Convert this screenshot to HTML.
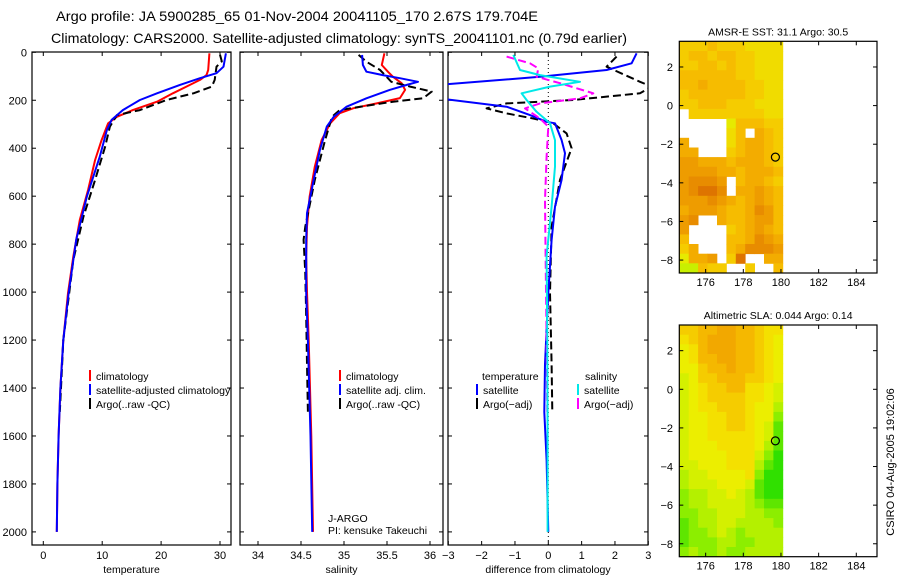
<!DOCTYPE html>
<html><head><meta charset="utf-8"><title>Argo profile</title>
<style>
html,body{margin:0;padding:0;background:#fff;}
svg{display:block;font-family:"Liberation Sans",Arial,sans-serif;}
text{fill:#000;}
</style></head>
<body>
<svg id="fig" width="900" height="580" viewBox="0 0 900 580" xmlns="http://www.w3.org/2000/svg">
<defs>
<clipPath id="c1"><rect x="32" y="52" width="199" height="493"/></clipPath>
<clipPath id="c2"><rect x="240" y="52" width="203" height="493"/></clipPath>
<clipPath id="c3"><rect x="448" y="52" width="200" height="493"/></clipPath>
</defs>
<text x="56" y="21" font-size="14" textLength="482" lengthAdjust="spacingAndGlyphs">Argo profile: JA 5900285_65 01-Nov-2004 20041105_170 2.67S 179.704E</text>
<text x="51" y="43" font-size="14" textLength="576" lengthAdjust="spacingAndGlyphs">Climatology: CARS2000. Satellite-adjusted climatology: synTS_20041101.nc (0.79d earlier)</text>
<text transform="translate(894,462) rotate(-90)" font-size="11" text-anchor="middle">CSIRO 04-Aug-2005 19:02:06</text>
<g id="layer"></g>
</svg>
<script>
// ---------- profile data ----------
const pTempClim=[4,74,95,115,143,171,206,241,269,296,366,449,574,699,852,1004,1200,1400,1600,1800,2000];
const tempClim=[28.2,28.0,27.7,26.6,24.3,22.0,19.3,15.2,12.5,11.0,9.9,8.8,7.6,6.2,5.1,4.2,3.4,2.9,2.6,2.4,2.3];
const pTempSat=[4,60,87,108,136,171,199,241,282,324,435,601,780,1004,1200,1400,1600,1800,2000];
const tempSat=[31.0,30.6,29.4,26.6,23.2,19.3,16.4,13.5,11.6,10.8,9.6,7.4,5.6,4.3,3.4,2.9,2.6,2.4,2.3];
const pTempArgo=[10,38,60,115,143,171,199,241,262,310,394,532,686,866,1004,1200,1400,1500];
const tempArgo=[30.0,30.3,29.4,29.1,28.6,25.5,20.9,16.4,12.5,11.3,10.5,8.8,6.8,5.1,4.4,3.4,3.0,2.8];

const pSalClim=[4,53,81,102,129,157,191,213,233,254,296,366,477,602,727,852,1000,1200,1600,2000];
const salClim=[35.47,35.44,35.51,35.57,35.67,35.71,35.65,35.38,35.11,34.95,34.84,34.74,34.66,34.60,34.57,34.56,34.57,34.59,34.62,34.64];
const pSalSat=[11,53,81,95,108,123,136,157,192,227,269,310,407,546,671,782,1004,1200,1600,2000];
const salSat=[35.21,35.22,35.26,35.45,35.65,35.86,35.73,35.53,35.26,35.03,34.88,34.80,34.72,34.64,34.57,34.56,34.56,34.58,34.61,34.63];
const pSalArgo=[11,39,74,123,143,164,192,206,227,241,269,366,532,727,782,922,1100,1300,1500];
const salArgo=[35.17,35.26,35.42,35.55,35.77,36.02,35.92,35.57,35.19,34.95,34.86,34.78,34.66,34.55,34.53,34.55,34.56,34.57,34.58];

const pDiffTSat=[4,46,74,102,136,192,227,262,290,296,366,421,532,644,783,1004,1300,1500,1700,2000];
const diffTSat=[2.65,2.5,1.75,-0.25,-3.3,-3.3,-1.25,-0.55,-0.05,0.2,0.4,0.5,0.4,0.2,0.1,0.0,-0.1,-0.12,-0.05,0.0];
const pDiffTArgo=[18,60,123,143,171,199,213,234,255,276,296,338,400,532,727,1004,1300,1500];
const diffTArgo=[2.05,1.75,2.75,3.1,2.75,0.75,-1.25,-1.85,-1.25,-0.45,0.15,0.55,0.7,0.35,0.1,0.05,0.1,0.12];
const pDiffSSat=[11,74,95,123,143,171,199,248,296,366,477,644,850,1200,1600,2000];
const diffSSat=[-1.05,-0.85,-0.25,0.95,0.05,-0.8,-0.65,-0.35,0.05,0.2,0.2,0.1,-0.05,-0.03,-0.02,-0.02];
const pDiffSArgo=[18,46,67,102,129,171,192,213,234,276,310,435,616,850,1200,1500];
const diffSArgo=[-1.25,-0.55,-0.3,-0.35,0.35,1.35,0.95,-0.25,-0.7,-0.25,0.0,-0.05,-0.1,-0.08,-0.05,-0.03];

const depthTicks=[0,200,400,600,800,1000,1200,1400,1600,1800,2000];
const tempTicks=[0,10,20,30];
const salTicks=[34,34.5,35,35.5,36];
const diffTicks=[-3,-2,-1,0,1,2,3];

// ---------- map data (0.5 deg cells, rows north->south, '.' = missing) ----------
const mapLonStart=174.6, mapLatTop=3.33, mapCell=0.5;
const lonTicks=[176,178,180,182,184];
const latTicks=[2,0,-2,-4,-6,-8];
const sstRows=[
"33343332222","34434433222","33443433222","44444433222","44544443322","34444443322",
"33444333222",".3333333322",".....144433",".....24.543","5....245543","55...345543",
"66555455543","66665545554","67776.45543","67887.55654","66676545654","56665445764",
"67..5445664","6....345654","4....445765","35...457776","1556.38..55","00433..3..4"];
const slaRows=[
"77889988766","67899988765","56899988765","56889988765","55788988765","45778887765",
"45677886654","45677776654","45667776553","45566776552","45566776541","45566666541",
"45556666531","45555666420","44555666310","34455556200","34445554100","23344543100",
"23344443211","22334443322","12334433332","12234323333","12223322333","23223223333"];
const floatLon=179.704, floatLat=-2.67;

// ---------- helpers ----------
const NS='http://www.w3.org/2000/svg';
const layer=document.getElementById('layer');
function mk(tag,attrs,parent){const e=document.createElementNS(NS,tag);for(const k in attrs)e.setAttribute(k,attrs[k]);(parent||layer).appendChild(e);return e;}
function txt(x,y,s,size,anchor,parent){const e=mk('text',{x:x,y:y,'font-size':size,'text-anchor':anchor||'start'},parent);e.textContent=s;return e;}

const Y0=52, Y1=545;
const yP=p=>52.3+p*0.2398;
const xT=t=>43.3+5.89*t;
const xS=s=>301+86*(s-34.5);
const xD=d=>548.3+33.33*d;

function panel(name,x0,x1,xTicks,xf,xlabelFmt,axisTitle,showDepth){
  const g=mk('g',{});
  
  
  const fr=mk('rect',{x:x0,y:Y0,width:x1-x0,height:Y1-Y0,fill:'none',stroke:'#000','stroke-width':1.2},g);
  
  
  depthTicks.forEach(p=>{
    const y=yP(p);
    mk('line',{x1:x0,y1:y,x2:x0+4,y2:y,stroke:'#000'},g);
    mk('line',{x1:x1-4,y1:y,x2:x1,y2:y,stroke:'#000'},g);
    if(showDepth){const t=txt(27,y+4,String(p),11,'end',g);
      
      }
  });
  xTicks.forEach(v=>{
    const x=xf(v);
    mk('line',{x1:x,y1:Y0,x2:x,y2:Y0+4,stroke:'#000'},g);
    mk('line',{x1:x,y1:Y1-4,x2:x,y2:Y1,stroke:'#000'},g);
    const t=txt(x,559,xlabelFmt(v),11,'middle',g);
    
    
  });
  const at=txt((x0+x1)/2,573,axisTitle,10.5,'middle',g);
  
  
  return g;
}
function series(name,clip,ps,vs,xf,color,width,dash){
  const pts=ps.map((p,i)=>xf(vs[i]).toFixed(1)+','+yP(p).toFixed(1)).join(' ');
  const a={points:pts,fill:'none',stroke:color,'stroke-width':width,'clip-path':'url(#'+clip+')','stroke-linejoin':'round'};
  if(dash)a['stroke-dasharray']=dash;
  const e=mk('polyline',a);
  
  
  return e;
}
function legendItem(name,x,y,color,label){
  const g=mk('g',{});
  
  
  mk('line',{x1:x,y1:y-6,x2:x,y2:y+5,stroke:color,'stroke-width':2},g);
  txt(x+6,y+4,label,10.5,'start',g);
}

// ---------- panels ----------
panel('temperature-panel',32,231,tempTicks,xT,v=>String(v),'temperature',true);
panel('salinity-panel',240,443,salTicks,xS,v=>String(v),'salinity',false);
panel('difference-panel',448,648,diffTicks,xD,v=>(v<0?'\u2212'+(-v):String(v)),'difference from climatology',false);

// zero line in diff panel
const zl=mk('line',{x1:xD(0),y1:Y0,x2:xD(0),y2:Y1,stroke:'#000','stroke-width':1,'stroke-dasharray':'1,3'});



series('temperature-climatology-line','c1',pTempClim,tempClim,xT,'#ff0000',2);
series('temperature-argo-line','c1',pTempArgo,tempArgo,xT,'#000',2,'8,4');
series('temperature-satellite-line','c1',pTempSat,tempSat,xT,'#0000ff',2);

series('salinity-climatology-line','c2',pSalClim,salClim,xS,'#ff0000',2);
series('salinity-argo-line','c2',pSalArgo,salArgo,xS,'#000',2,'8,4');
series('salinity-satellite-line','c2',pSalSat,salSat,xS,'#0000ff',2);

series('diff-temp-argo-line','c3',pDiffTArgo,diffTArgo,xD,'#000',2,'8,4');
series('diff-temp-satellite-line','c3',pDiffTSat,diffTSat,xD,'#0000ff',2);
series('diff-sal-argo-line','c3',pDiffSArgo,diffSArgo,xD,'#ff00ff',2,'8,4');
series('diff-sal-satellite-line','c3',pDiffSSat,diffSSat,xD,'#00e8e8',2);

// legends
legendItem('legend-climatology',90,376,'#ff0000','climatology');
legendItem('legend-satellite-adjusted',90,390,'#0000ff','satellite-adjusted climatology');
legendItem('legend-argo',90,404,'#000','Argo(..raw -QC)');
legendItem('legend-sal-climatology',340,376,'#ff0000','climatology');
legendItem('legend-sal-satellite',340,390,'#0000ff','satellite adj. clim.');
legendItem('legend-sal-argo',340,404,'#000','Argo(..raw -QC)');
let lt=txt(482,380,'temperature',10.5,'start');


legendItem('legend-diff-temp-satellite',477,390,'#0000ff','satellite');
legendItem('legend-diff-temp-argo',477,404,'#000','Argo(\u2212adj)');
lt=txt(585,380,'salinity',10.5,'start');


legendItem('legend-diff-sal-satellite',578,390,'#00e8e8','satellite');
legendItem('legend-diff-sal-argo',578,404,'#ff00ff','Argo(\u2212adj)');
lt=txt(328,522,'J-ARGO',10.5,'start');


lt=txt(328,534,'PI: kensuke Takeuchi',10.5,'start');



// ---------- maps ----------
const sstColors=['#c8f000','#e6ea00','#f0dc00','#f5cc00','#f6bc00','#f3ac00','#ee9c00','#e88c00','#de7400','#d05c00'];
const slaColors=['#30e000','#5ee600','#8cee00','#b4f000','#d4f000','#ecee00','#f4e000','#f5cc00','#f5b800','#f2a800'];
function map(name,rows,colors,top,bottom,title){
  const x0=679.3,x1=877, lonMin=174.6, lonMax=185.1;
  const latBot=-8.67;
  const xl=lon=>x0+(lon-lonMin)*(x1-x0)/(lonMax-lonMin);
  const yl=lat=>top+(mapLatTop-lat)*(bottom-top)/(mapLatTop-latBot);
  const g=mk('g',{});
  
  
  rows.forEach((row,r)=>{
    for(let c=0;c<row.length;c++){
      const ch=row[c]; if(ch==='.')continue;
      const lon=mapLonStart+c*mapCell, lat=mapLatTop-r*mapCell;
      const xa=xl(lon), xb=xl(Math.min(lon+mapCell,180.1));
      const ya=yl(lat), yb=yl(Math.max(lat-mapCell,latBot));
      const cell=mk('rect',{x:xa.toFixed(1),y:ya.toFixed(1),width:(xb-xa+0.4).toFixed(1),height:(yb-ya+0.4).toFixed(1),fill:colors[+ch]},g);
      
      
    }
  });
  const fr=mk('rect',{x:x0,y:top,width:x1-x0,height:bottom-top,fill:'none',stroke:'#000','stroke-width':1.2},g);
  
  
  lonTicks.forEach(v=>{const x=xl(v);
    mk('line',{x1:x,y1:top,x2:x,y2:top+4,stroke:'#000'},g);
    mk('line',{x1:x,y1:bottom-4,x2:x,y2:bottom,stroke:'#000'},g);
    const t=txt(x,bottom+13,String(v),11,'middle',g);
    
    });
  latTicks.forEach(v=>{const y=yl(v);
    mk('line',{x1:x0,y1:y,x2:x0+4,y2:y,stroke:'#000'},g);
    mk('line',{x1:x1-4,y1:y,x2:x1,y2:y,stroke:'#000'},g);
    const t=txt(673,y+4,v<0?'\u2212'+(-v):String(v),11,'end',g);
    
    });
  const tt=txt((x0+x1)/2,top-6,title,10.5,'middle',g);
  
  
  const m=mk('circle',{cx:xl(floatLon),cy:yl(floatLat),r:4,fill:'none',stroke:'#000','stroke-width':1.2},g);
  
  
}
map('sst-map',sstRows,sstColors,41.3,273,'AMSR-E SST: 31.1 Argo: 30.5');
map('sla-map',slaRows,slaColors,325,556.7,'Altimetric SLA: 0.044 Argo: 0.14');
</script>
</body></html>
